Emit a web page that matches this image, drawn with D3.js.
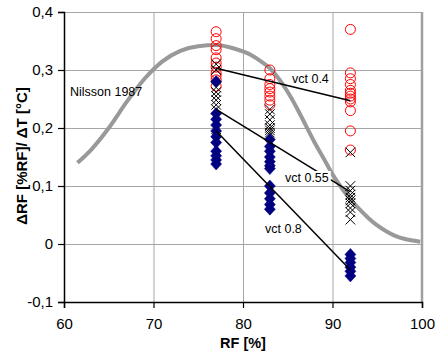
<!DOCTYPE html>
<html>
<head>
<meta charset="utf-8">
<script src="https://cdn.jsdelivr.net/npm/d3@7"></script>
<style>
  body { margin: 0; background: #fff; }
  svg { font-family: Arial, "Liberation Sans", sans-serif; }
</style>
</head>
<body>
<div id="chart"></div>
<script>
var rfLevels = [77, 83, 92];
var vct04 = [
  [0.366, 0.354, 0.342, 0.335, 0.321, 0.312, 0.305, 0.295, 0.29, 0.283, 0.272],
  [0.3, 0.285, 0.275, 0.268, 0.262, 0.255, 0.248, 0.24],
  [0.37, 0.295, 0.285, 0.275, 0.265, 0.26, 0.255, 0.25, 0.245, 0.23, 0.195, 0.162]
];
var vct055 = [
  [0.31, 0.3, 0.27, 0.262, 0.255, 0.248, 0.24, 0.232, 0.183],
  [0.232, 0.224, 0.214, 0.205, 0.2, 0.196, 0.192, 0.188],
  [0.158, 0.1, 0.092, 0.085, 0.08, 0.075, 0.07, 0.062, 0.055, 0.042]
];
var vct08 = [
  [0.28, 0.225, 0.215, 0.205, 0.195, 0.185, 0.175, 0.16, 0.152, 0.145, 0.138],
  [0.18, 0.168, 0.16, 0.15, 0.142, 0.135, 0.13, 0.1, 0.088, 0.078, 0.068, 0.06],
  [-0.018, -0.025, -0.032, -0.04, -0.047, -0.055]
];

// Nilsson 1987 curve
var nilssonRF = [61.5, 63, 65, 67, 69, 71, 73, 75, 77, 79, 81, 82, 83, 84, 85, 86, 87, 88, 89, 90, 91, 92, 93, 94, 95, 96, 97, 98, 99, 99.8];
var nilssonVal = [0.14, 0.162, 0.2, 0.245, 0.285, 0.315, 0.333, 0.341, 0.343, 0.337, 0.325, 0.315, 0.303, 0.285, 0.262, 0.235, 0.205, 0.175, 0.148, 0.12, 0.097, 0.077, 0.06, 0.045, 0.032, 0.022, 0.014, 0.009, 0.006, 0.004];

// fitted lines: [start value at 77, end value at 92]
var fitNames = ["vct 0.4", "vct 0.55", "vct 0.8"];
var fitStart = [0.303, 0.232, 0.195];
var fitEnd = [0.247, 0.09, -0.045];

var xTicks = [60, 70, 80, 90, 100];
var yTicks = [-0.1, 0, 0.1, 0.2, 0.3, 0.4];

var W = 435, H = 354;
var margin = { top: 12, right: 13, bottom: 52, left: 64 },
  width = W - margin.left - margin.right,
  height = H - margin.top - margin.bottom;

var svg = d3.select("#chart").append("svg")
  .attr("width", W).attr("height", H);
var g = svg.append("g")
  .attr("transform", "translate(" + margin.left + "," + margin.top + ")");

var x = d3.scaleLinear().domain([60, 100]).range([0, width]);
var y = d3.scaleLinear().domain([-0.1, 0.4]).range([height, 0]);

function yLabel(d) {
  if (Math.abs(d) < 1e-9) return "0";
  return d3.format(".1f")(d).replace(".", ",").replace("−", "-");
}

// grid
g.append("g").selectAll("line.hg").data(yTicks.slice(1)).enter().append("line")
  .attr("x1", 0).attr("x2", width)
  .attr("y1", function (d) { return y(d) + 0.5; })
  .attr("y2", function (d) { return y(d) + 0.5; })
  .attr("stroke", "#a6a6a6").attr("stroke-width", 1);
g.append("g").selectAll("line.vg").data(xTicks.slice(1, 4)).enter().append("line")
  .attr("x1", function (d) { return x(d) + 0.5; })
  .attr("x2", function (d) { return x(d) + 0.5; })
  .attr("y1", 0).attr("y2", height)
  .attr("stroke", "#a6a6a6").attr("stroke-width", 1);
// right border
g.append("line").attr("x1", width).attr("x2", width).attr("y1", 0).attr("y2", height)
  .attr("stroke", "#a0a0a0").attr("stroke-width", 2.5);

// axes
var yAxis = g.append("g")
  .call(d3.axisLeft(y).tickValues(yTicks).tickSize(6).tickPadding(5).tickFormat(yLabel));
var xAxis = g.append("g").attr("transform", "translate(0," + height + ")")
  .call(d3.axisBottom(x).tickValues(xTicks).tickSize(6).tickPadding(10).tickFormat(d3.format("d")));
[xAxis, yAxis].forEach(function (a) {
  a.select(".domain").attr("stroke", "#000").attr("stroke-width", 1.5);
  a.selectAll(".tick line").attr("stroke", "#000").attr("stroke-width", 1.2);
  a.selectAll("text").attr("font-size", 15).attr("fill", "#000")
    .attr("font-family", "Arial, 'Liberation Sans', sans-serif");
});

// Nilsson curve
var curve = d3.line()
  .x(function (d, i) { return x(nilssonRF[i]); })
  .y(function (d) { return y(d); })
  .curve(d3.curveMonotoneX);
g.append("path").datum(nilssonVal)
  .attr("d", curve)
  .attr("fill", "none").attr("stroke", "#999999").attr("stroke-width", 4);

function flatten(series) {
  var out = [];
  series.forEach(function (vals, i) {
    vals.forEach(function (v) { out.push({ rf: rfLevels[i], v: v }); });
  });
  return out;
}

// red circles
g.append("g").selectAll("circle").data(flatten(vct04)).enter().append("circle")
  .attr("cx", function (d) { return x(d.rf); })
  .attr("cy", function (d) { return y(d.v); })
  .attr("r", 5)
  .attr("fill", "none").attr("stroke", "#ff0000").attr("stroke-width", 1);

// black crosses
var s = 4.8;
g.append("g").selectAll("path").data(flatten(vct055)).enter().append("path")
  .attr("transform", function (d) { return "translate(" + x(d.rf) + "," + y(d.v) + ")"; })
  .attr("d", "M" + -s + "," + -s + "L" + s + "," + s + "M" + -s + "," + s + "L" + s + "," + -s)
  .attr("fill", "none").attr("stroke", "#000").attr("stroke-width", 1);

// blue diamonds
g.append("g").selectAll("path").data(flatten(vct08)).enter().append("path")
  .attr("transform", function (d) { return "translate(" + x(d.rf) + "," + y(d.v) + ")"; })
  .attr("d", "M0,-6L5.5,0L0,6L-5.5,0Z")
  .attr("fill", "#000080").attr("stroke", "#000080").attr("stroke-width", 0.5);

// fitted lines
fitNames.forEach(function (n, i) {
  g.append("line")
    .attr("x1", x(rfLevels[0])).attr("y1", y(fitStart[i]))
    .attr("x2", x(rfLevels[2])).attr("y2", y(fitEnd[i]))
    .attr("stroke", "#000").attr("stroke-width", 1.5);
});

// labels
function label(txt, px, py, bg) {
  var t = svg.append("text").attr("x", px).attr("y", py)
    .attr("font-size", 12.5).attr("fill", "#000").text(txt);
  if (bg) {
    var b = t.node().getBBox();
    svg.insert("rect", function () { return t.node(); })
      .attr("x", b.x - 2).attr("y", b.y).attr("width", b.width + 4).attr("height", b.height)
      .attr("fill", "#fff");
  }
}
label("Nilsson 1987", 70, 96, false);
label(fitNames[0], 292, 83, false);
label(fitNames[1], 285, 182, true);
label(fitNames[2], 265, 233, false);

// axis titles
svg.append("text").attr("x", margin.left + width / 2).attr("y", 348)
  .attr("text-anchor", "middle").attr("font-size", 14.5).attr("font-weight", "bold")
  .text("RF [%]");
svg.append("text")
  .attr("transform", "translate(27,156) rotate(-90)")
  .attr("text-anchor", "middle").attr("font-size", 15).attr("font-weight", "bold")
  .text("ΔRF [%RF]/ ΔT [°C]");
</script>
</body>
</html>
